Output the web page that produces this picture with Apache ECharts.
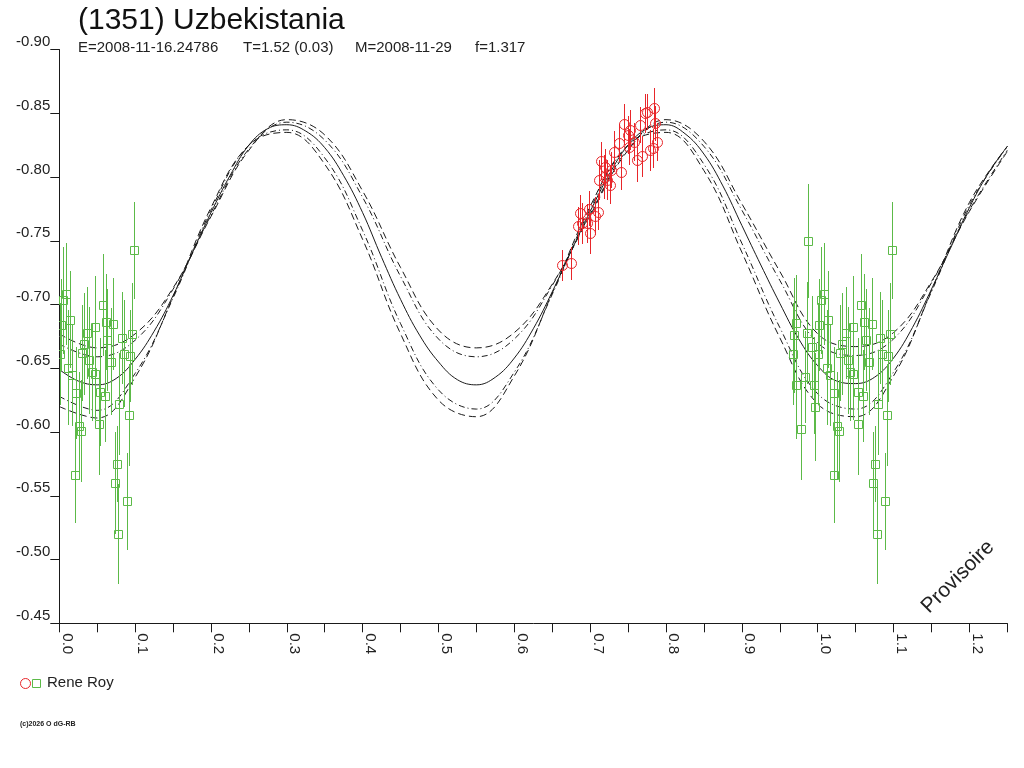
<!DOCTYPE html>
<html>
<head>
<meta charset="utf-8">
<title>(1351) Uzbekistania</title>
<script src="https://cdn.jsdelivr.net/npm/echarts@6/dist/echarts.min.js"></script>
<style>
  html, body { margin: 0; padding: 0; background: #fff; }
  #chart { width: 1024px; height: 768px; }
</style>
</head>
<body>
<div id="chart"></div>
<script>
// Fourier fit, every 0.025 in phase
const fitPhase = [0.000, 0.025, 0.050, 0.075, 0.100, 0.125, 0.150, 0.175, 0.200, 0.225,
    0.250, 0.275, 0.300, 0.325, 0.350, 0.375, 0.400, 0.425, 0.450, 0.475,
    0.500, 0.525, 0.550, 0.575, 0.600, 0.625, 0.650, 0.675, 0.700, 0.725,
    0.750, 0.775, 0.800, 0.825, 0.850, 0.875, 0.900, 0.925, 0.950, 0.975,
    1.000, 1.025, 1.050, 1.075, 1.100, 1.125, 1.150, 1.175, 1.200, 1.225, 1.250];
const fitMag = [-0.649, -0.640, -0.637, -0.642, -0.657, -0.679, -0.707, -0.740, -0.772, -0.801,
    -0.825, -0.838, -0.841, -0.836, -0.823, -0.801, -0.772, -0.737, -0.704, -0.676,
    -0.655, -0.641, -0.637, -0.643, -0.658, -0.681, -0.710, -0.742, -0.773, -0.802,
    -0.825, -0.838, -0.841, -0.834, -0.818, -0.793, -0.762, -0.731, -0.701, -0.673,
    -0.652, -0.640, -0.638, -0.643, -0.658, -0.682, -0.712, -0.744, -0.776, -0.803, -0.824];

// error envelope curves, read every 0.05 in phase
const envPhase = [0.00, 0.05, 0.10, 0.15, 0.20, 0.25, 0.30, 0.35, 0.40, 0.45, 0.50, 0.55, 0.60,
    0.65, 0.70, 0.75, 0.80, 0.85, 0.90, 0.95, 1.00, 1.05, 1.10, 1.15, 1.20, 1.25];
const upperOuter = [-0.677, -0.666, -0.677, -0.713, -0.769, -0.821, -0.845, -0.833, -0.789, -0.729, -0.680, -0.666, -0.678,
    -0.716, -0.770, -0.821, -0.845, -0.828, -0.779, -0.726, -0.677, -0.667, -0.678, -0.718, -0.773, -0.820];
const upperInner = [-0.669, -0.659, -0.672, -0.712, -0.770, -0.822, -0.843, -0.829, -0.784, -0.722, -0.673, -0.659, -0.673,
    -0.715, -0.771, -0.822, -0.843, -0.824, -0.774, -0.719, -0.670, -0.660, -0.673, -0.717, -0.774, -0.821];
const lowerInner = [-0.628, -0.617, -0.646, -0.705, -0.774, -0.825, -0.837, -0.815, -0.758, -0.685, -0.633, -0.618, -0.647,
    -0.708, -0.775, -0.825, -0.837, -0.810, -0.748, -0.682, -0.630, -0.618, -0.647, -0.710, -0.778, -0.824];
const lowerOuter = [-0.620, -0.611, -0.643, -0.706, -0.776, -0.825, -0.835, -0.810, -0.751, -0.677, -0.625, -0.612, -0.644,
    -0.709, -0.777, -0.825, -0.835, -0.805, -0.741, -0.674, -0.622, -0.612, -0.644, -0.711, -0.780, -0.824];

// Rene Roy, session 1 (green squares), phase / mag / error
const greenPhase = [-0.0330, -0.0317, -0.0290, -0.0285, -0.0215, -0.0162, -0.0140, -0.0127, -0.0079, -0.0053,
    -0.0030, 0.0005, 0.0020, 0.0045, 0.0088, 0.0119, 0.0141, 0.0168, 0.0211, 0.0216,
    0.0260, 0.0286, 0.0300, 0.0326, 0.0369, 0.0396, 0.0427, 0.0467, 0.0471, 0.0528,
    0.0537, 0.0573, 0.0603, 0.0616, 0.0633, 0.0682, 0.0712, 0.0735, 0.0761, 0.0778,
    0.0792, 0.0827, 0.0854, 0.0893, 0.0916, 0.0933, 0.0955, 0.0981];
const greenMag = [-0.6615, -0.6759, -0.6855, -0.6366, -0.6026, -0.6431, -0.6780, -0.7499, -0.6667, -0.6366,
    -0.6196, -0.6615, -0.6837, -0.7034, -0.7086, -0.6505, -0.6882, -0.6445, -0.5666, -0.6306,
    -0.6047, -0.6008, -0.6620, -0.6694, -0.6777, -0.6563, -0.6470, -0.6824, -0.6458, -0.6066,
    -0.6314, -0.6994, -0.6280, -0.6863, -0.6725, -0.6550, -0.6845, -0.5600, -0.5749, -0.5200,
    -0.6223, -0.6738, -0.6615, -0.5458, -0.6136, -0.6594, -0.6772, -0.7426];
const greenErr = [0.040, 0.045, 0.038, 0.042, 0.040, 0.036, 0.040, 0.045, 0.040, 0.038,
    0.042, 0.040, 0.036, 0.042, 0.040, 0.045, 0.038, 0.040, 0.038, 0.036,
    0.042, 0.040, 0.038, 0.040, 0.036, 0.042, 0.038, 0.040, 0.036, 0.040,
    0.042, 0.040, 0.036, 0.038, 0.040, 0.042, 0.036, 0.040, 0.030, 0.039,
    0.040, 0.036, 0.042, 0.038, 0.040, 0.036, 0.040, 0.038];

// Rene Roy, session 2 (red circles)
const redPhase = [0.6628, 0.6750, 0.6834, 0.6860, 0.6892, 0.6958, 0.6979, 0.7001, 0.7067, 0.7098,
    0.7111, 0.7147, 0.7177, 0.7199, 0.7222, 0.7256, 0.7279, 0.7309, 0.7375, 0.7410,
    0.7441, 0.7493, 0.7507, 0.7529, 0.7573, 0.7617, 0.7652, 0.7683, 0.7727, 0.7749,
    0.7793, 0.7829, 0.7837, 0.7859, 0.7881];
const redMag = [-0.7308, -0.7322, -0.7614, -0.7719, -0.7636, -0.7636, -0.7753, -0.7557, -0.7693, -0.7727,
    -0.7976, -0.8125, -0.8001, -0.8080, -0.7976, -0.7936, -0.8054, -0.8198, -0.8268, -0.8041,
    -0.8413, -0.8329, -0.8237, -0.8368, -0.8276, -0.8133, -0.8407, -0.8164, -0.8499, -0.8512,
    -0.8211, -0.8224, -0.8538, -0.8420, -0.8276];
const redErr = [0.012, 0.013, 0.015, 0.014, 0.016, 0.015, 0.014, 0.016, 0.015, 0.014,
    0.016, 0.015, 0.017, 0.014, 0.016, 0.015, 0.014, 0.016, 0.015, 0.014,
    0.016, 0.015, 0.014, 0.016, 0.015, 0.017, 0.014, 0.016, 0.015, 0.014,
    0.016, 0.015, 0.016, 0.014, 0.015];

const xTicks = { min: 0, max: 1.25, step: 0.05 };
const yTicks = { min: -0.90, max: -0.45, step: 0.05 };

const FONT = 'Liberation Sans, Arial, sans-serif';
const GREEN = '#5cba48';
const RED = '#e8262a';
const INK = '#1a1a1a';

const chart = echarts.init(document.getElementById('chart'));

const zip = (xs, ys) => xs.map((x, i) => [x, ys[i]]);
const snap = v => Math.round(v) + 0.5;

// the phase-folded plot repeats the first points one cycle later
function folded(phases, mags, errs) {
    const out = [];
    [0, 1].forEach(shift => {
        phases.forEach((p, i) => {
            const x = p + shift;
            if (x >= xTicks.min && x <= xTicks.max) out.push([x, mags[i], errs[i]]);
        });
    });
    return out;
}

const greenPts = folded(greenPhase, greenMag, greenErr);
const redPts = folded(redPhase, redMag, redErr);

// error bar + hollow marker, snapped to whole pixels so they stay crisp
function measureSeries(pts, color, marker) {
    return {
        type: 'custom',
        data: pts,
        encode: { x: 0, y: 1 },
        clip: true,
        silent: true,
        z: 3,
        renderItem: (params, api) => {
            const x = api.value(0), y = api.value(1), e = api.value(2);
            const c = api.coord([x, y]);
            const a = api.coord([x, y - e]);
            const b = api.coord([x, y + e]);
            const cx = snap(c[0]), cy = snap(c[1]);
            const bar = {
                type: 'line',
                shape: { x1: cx, y1: Math.round(a[1]), x2: cx, y2: Math.round(b[1]) },
                style: { stroke: color, lineWidth: 1 }
            };
            const mark = marker === 'rect'
                ? { type: 'rect', shape: { x: cx - 4, y: cy - 4, width: 8, height: 8 },
                    style: { fill: 'none', stroke: color, lineWidth: 1 } }
                : { type: 'circle', shape: { cx: cx, cy: cy, r: 5 },
                    style: { fill: 'none', stroke: color, lineWidth: 1 } };
            return { type: 'group', children: [bar, mark] };
        }
    };
}

function envLine(values, dash) {
    return {
        type: 'line',
        data: zip(envPhase, values),
        smooth: 0.4,
        symbol: 'none',
        clip: true,
        silent: true,
        z: 2,
        lineStyle: { color: INK, width: 1, type: dash }
    };
}

const option = {
    animation: false,
    backgroundColor: '#fff',
    title: {
        text: '(1351) Uzbekistania',
        left: 73,
        top: 1,
        textStyle: { fontFamily: FONT, fontSize: 30, fontWeight: 'normal', color: '#111' }
    },
    grid: { left: 59.3, right: 16.7, top: 49.5, bottom: 144.7, containLabel: false },
    xAxis: {
        type: 'value',
        min: xTicks.min,
        max: xTicks.max,
        interval: xTicks.step,
        splitLine: { show: false },
        axisLine: { onZero: false, lineStyle: { color: INK, width: 1 } },
        axisTick: { length: 9, lineStyle: { color: INK } },
        axisLabel: {
            rotate: -90,
            align: 'left',
            verticalAlign: 'bottom',
            margin: 10,
            fontFamily: FONT,
            fontSize: 15,
            color: '#222',
            formatter: v => (Math.round(v * 100) % 10 === 0 ? v.toFixed(1) : '')
        }
    },
    yAxis: {
        type: 'value',
        inverse: true,
        min: yTicks.min,
        max: yTicks.max,
        interval: yTicks.step,
        splitLine: { show: false },
        axisLine: { show: true, onZero: false, lineStyle: { color: INK, width: 1 } },
        axisTick: { show: true, length: 9, lineStyle: { color: INK } },
        axisLabel: {
            margin: 9,
            verticalAlign: 'bottom',
            fontFamily: FONT,
            fontSize: 15,
            color: '#222',
            formatter: v => v.toFixed(2)
        }
    },
    series: [
        envLine(upperOuter, [7, 4]),
        envLine(lowerOuter, [7, 4]),
        envLine(upperInner, [6, 3, 1, 3]),
        envLine(lowerInner, [6, 3, 1, 3]),
        {
            type: 'line',
            data: zip(fitPhase, fitMag),
            smooth: 0.4,
            symbol: 'none',
            clip: true,
            silent: true,
            z: 2,
            lineStyle: { color: INK, width: 1 }
        },
        measureSeries(greenPts, GREEN, 'rect'),
        measureSeries(redPts, RED, 'circle')
    ],
    graphic: [
        // header line: epoch, period, mid date, fraction
        { type: 'text', left: 78, top: 40, style: { text: 'E=2008-11-16.24786', font: '15px ' + FONT, fill: '#222' } },
        { type: 'text', left: 243, top: 40, style: { text: 'T=1.52 (0.03)', font: '15px ' + FONT, fill: '#222' } },
        { type: 'text', left: 355, top: 40, style: { text: 'M=2008-11-29', font: '15px ' + FONT, fill: '#222' } },
        { type: 'text', left: 475, top: 40, style: { text: 'f=1.317', font: '15px ' + FONT, fill: '#222' } },
        // legend
        { type: 'circle', shape: { cx: 25.5, cy: 683.5, r: 5 }, style: { fill: 'none', stroke: RED, lineWidth: 1 } },
        { type: 'rect', shape: { x: 32.5, y: 679.5, width: 8, height: 8 }, style: { fill: 'none', stroke: GREEN, lineWidth: 1 } },
        { type: 'text', left: 47, top: 675, style: { text: 'Rene Roy', font: '15px ' + FONT, fill: '#222' } },
        // footer + watermark
        { type: 'text', left: 20, top: 721, style: { text: '(c)2026 O dG-RB', font: 'bold 7px ' + FONT, fill: '#222' } },
        {
            type: 'text', x: 958, y: 577, rotation: Math.PI / 4,
            style: { text: 'Provisoire', font: '21px ' + FONT, fill: '#222', align: 'center', verticalAlign: 'middle' }
        }
    ]
};

chart.setOption(option);
</script>
</body>
</html>
